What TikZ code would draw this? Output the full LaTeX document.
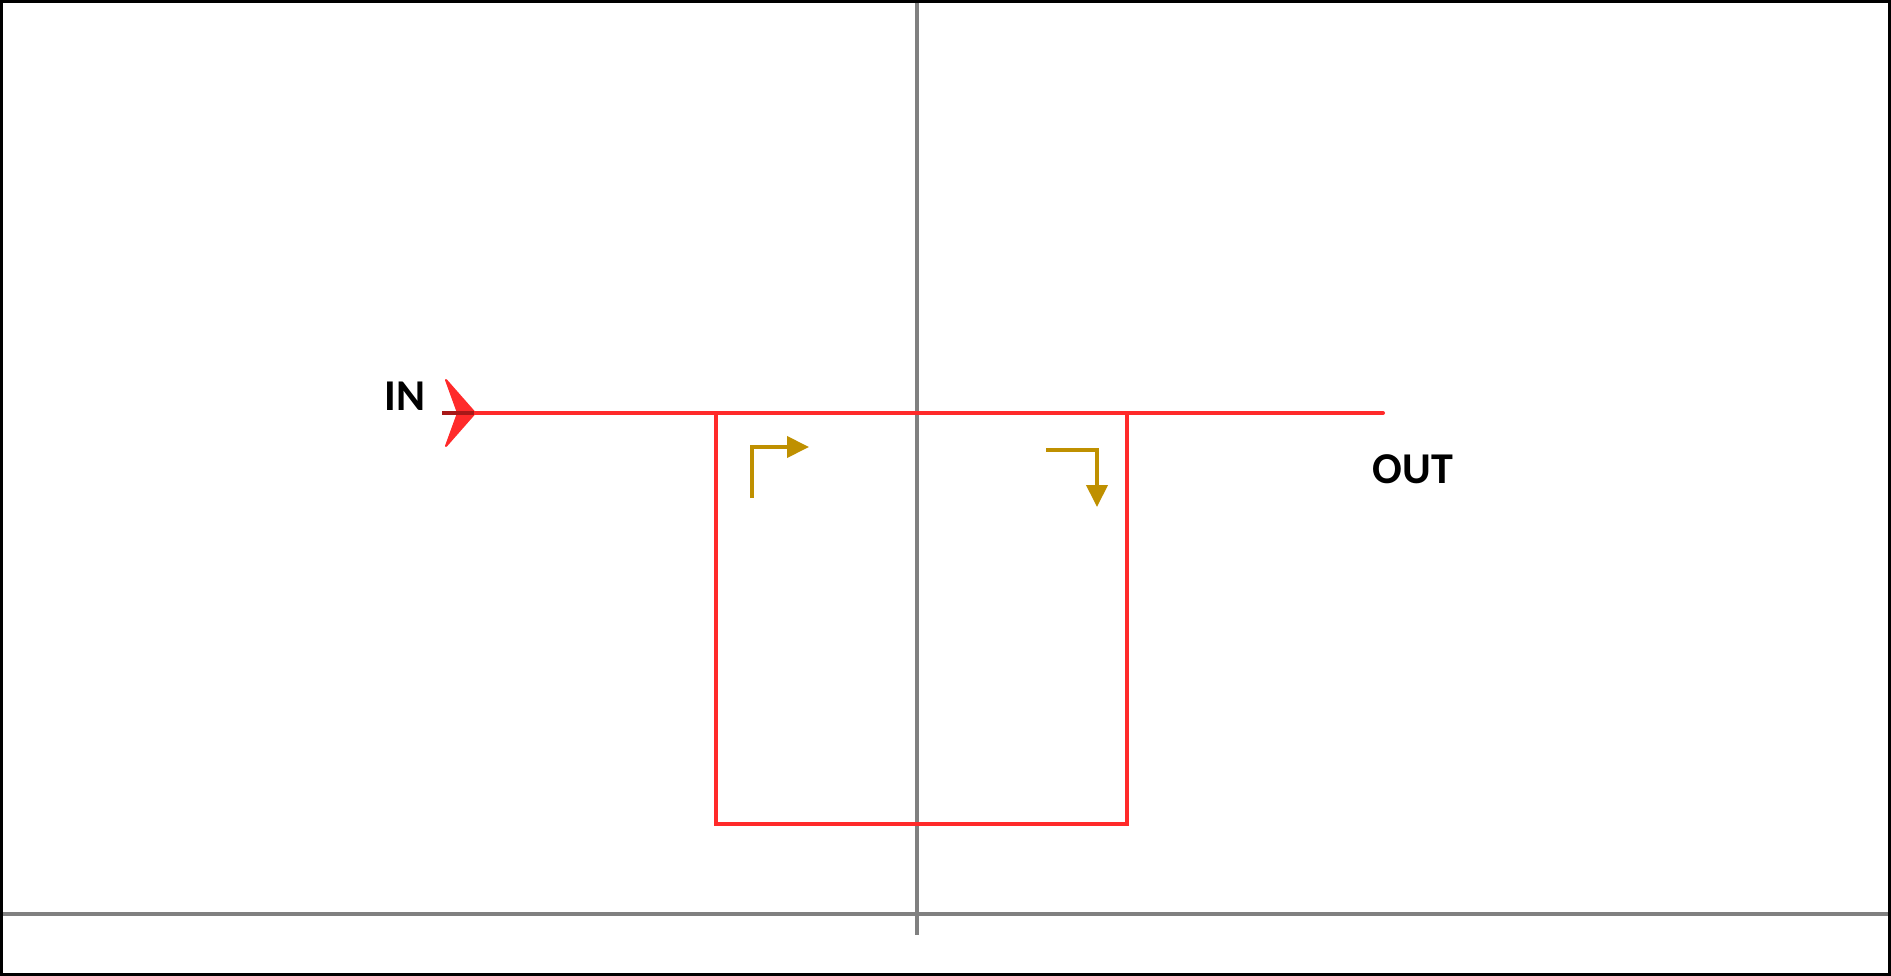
\documentclass[tikz,border=0pt]{standalone}
\usepackage{fontspec}
\setmainfont{Carlito}
\usetikzlibrary{arrows.meta}
\definecolor{axisgray}{HTML}{808080}
\definecolor{flowred}{HTML}{FF2A2A}
\definecolor{darkflow}{HTML}{A81818}
\definecolor{gold}{HTML}{BF9000}
\tikzset{
  axis/.style={draw=axisgray, line width=4.5pt},
  flow/.style={draw=flowred, line width=4pt},
  turn/.style={draw=gold, line width=4pt, -{Triangle[length=22pt,width=21pt]}},
  lbl/.style={font=\fontsize{44}{44}\selectfont\bfseries, inner sep=0pt}
}
\begin{document}
\begin{tikzpicture}[x=1pt,y=-1pt]
\useasboundingbox (0,0) rectangle (1891,976);
\fill[white] (0,0) rectangle (1891,976);
% axes
\coordinate (vtop) at (917,0);
\coordinate (vbot) at (917,935);
\coordinate (hl) at (0,914);
\coordinate (hr) at (1891,914);
\draw[axis] (vtop) -- (vbot);
\draw[axis] (hl) -- (hr);
% flow path
\coordinate (in) at (446,413);
\coordinate (out) at (1383,413);
\coordinate (a) at (716,413);
\coordinate (b) at (716,824);
\coordinate (c) at (1127,824);
\coordinate (d) at (1127,413);
\draw[flow, line cap=round] (in) -- (out);
\draw[flow, line join=miter] (a) -- (b) -- (c) -- (d);
% IN arrowhead
\filldraw[fill=flowred, draw=flowred, line width=2pt, line join=round] (446,380) -- (475,413) -- (446,446) -- (458,413) -- cycle;
\draw[draw=darkflow, line width=4pt] (442,413) -- (474,413);
% labels
\node[lbl, anchor=center] (inlbl) at (405,396) {IN};
\node[lbl, anchor=center] (outlbl) at (1413,469) {OUT};
% gold turn arrows
\coordinate (g1s) at (752,498);
\coordinate (g1c) at (752,447);
\coordinate (g1e) at (809,447);
\draw[turn, line join=miter] (g1s) -- (g1c) -- (g1e);
\coordinate (g2s) at (1046,450);
\coordinate (g2c) at (1097,450);
\coordinate (g2e) at (1097,507);
\draw[turn, line join=miter] (g2s) -- (g2c) -- (g2e);
% frame
\draw[black, line width=3pt] (1.5,1.5) rectangle (1889.5,974.5);
\end{tikzpicture}
\end{document}
